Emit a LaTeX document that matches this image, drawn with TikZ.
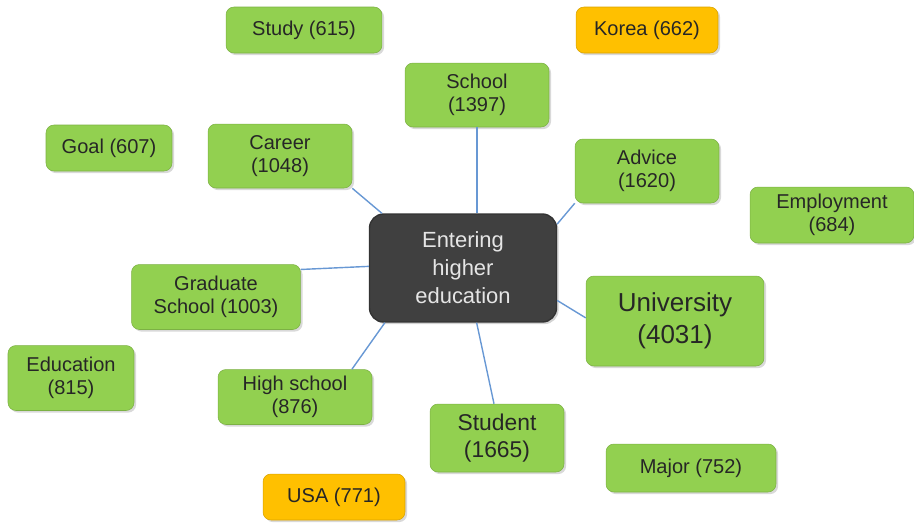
\documentclass[tikz,border=0pt]{standalone}
\usepackage{fontspec}
\setmainfont{Liberation Sans}
\usetikzlibrary{shadows}
\definecolor{leafgreen}{RGB}{146,208,80}
\definecolor{leafgold}{RGB}{255,192,0}
\definecolor{hubgray}{RGB}{64,64,64}
\definecolor{linkblue}{RGB}{104,152,212}
\tikzset{
leaf/.style={rectangle, rounded corners=4.5pt, fill=leafgreen, draw=leafgreen!85!black,
  line width=0.3pt, align=center, inner sep=1pt, text=black!85,
  font=\fontsize{11.4}{13}\selectfont,
  drop shadow={shadow xshift=1.2pt, shadow yshift=-1.2pt, opacity=0.3}},
goldleaf/.style={leaf, fill=leafgold, draw=leafgold!85!black},
hub/.style={rectangle, rounded corners=8pt, fill=hubgray, draw=black!80, line width=0.8pt,
  align=center, text=black!10, font=\fontsize{12.5}{16}\selectfont,
  drop shadow={shadow xshift=1.2pt, shadow yshift=-1.2pt, opacity=0.35}},
link/.style={draw=linkblue, line width=0.8pt}
}
\begin{document}
\begin{tikzpicture}[x=0.02cm,y=-0.02cm]
\useasboundingbox (0,0) rectangle (914,522);

\node[hub, minimum width=3.74cm, minimum height=2.16cm] (hub) at (463,268) {Entering\\higher\\education};

\node[leaf, minimum width=3.12cm, minimum height=0.92cm] (study) at (304,30) {Study (615)};
\node[goldleaf, minimum width=2.84cm, minimum height=0.92cm] (korea) at (647,30) {Korea (662)};
\node[leaf, minimum width=2.88cm, minimum height=1.28cm] (school) at (477,95) {School\\(1397)};
\node[leaf, minimum width=2.52cm, minimum height=0.92cm] (goal) at (109,148) {Goal (607)};
\node[leaf, minimum width=2.88cm, minimum height=1.28cm] (career) at (280,156) {Career\\(1048)};
\node[leaf, minimum width=2.88cm, minimum height=1.28cm] (advice) at (647,171) {Advice\\(1620)};
\node[leaf, minimum width=3.28cm, minimum height=1.12cm] (employment) at (832,215) {Employment\\(684)};
\node[leaf, minimum width=3.38cm, minimum height=1.30cm] (graduate) at (216,297) {Graduate\\School (1003)};
\node[leaf, minimum width=3.56cm, minimum height=1.80cm, font=\fontsize{14.8}{18.5}\selectfont] (university) at (675,321) {University\\(4031)};
\node[leaf, minimum width=2.52cm, minimum height=1.30cm] (education) at (71,378) {Education\\(815)};
\node[leaf, minimum width=3.08cm, minimum height=1.10cm] (highschool) at (295,397) {High school\\(876)};
\node[leaf, minimum width=2.68cm, minimum height=1.36cm, font=\fontsize{13}{15.5}\selectfont] (student) at (497,438) {Student\\(1665)};
\node[leaf, minimum width=3.40cm, minimum height=0.96cm] (major) at (691,468) {Major (752)};
\node[goldleaf, minimum width=2.84cm, minimum height=0.92cm] (usa) at (334,497) {USA (771)};

\draw[link] (school.south) -- (school.south |- hub.north);
\draw[link] (career.south east) -- (hub.146);
\draw[link] (advice.south west) -- (hub.25);
\draw[link] (graduate.18) -- (hub.179);
\draw[link] (university.178) -- (hub.-19);
\draw[link] (highschool.26) -- (hub.-145);
\draw[link] (student.95) -- (hub.-76);
\end{tikzpicture}
\end{document}
